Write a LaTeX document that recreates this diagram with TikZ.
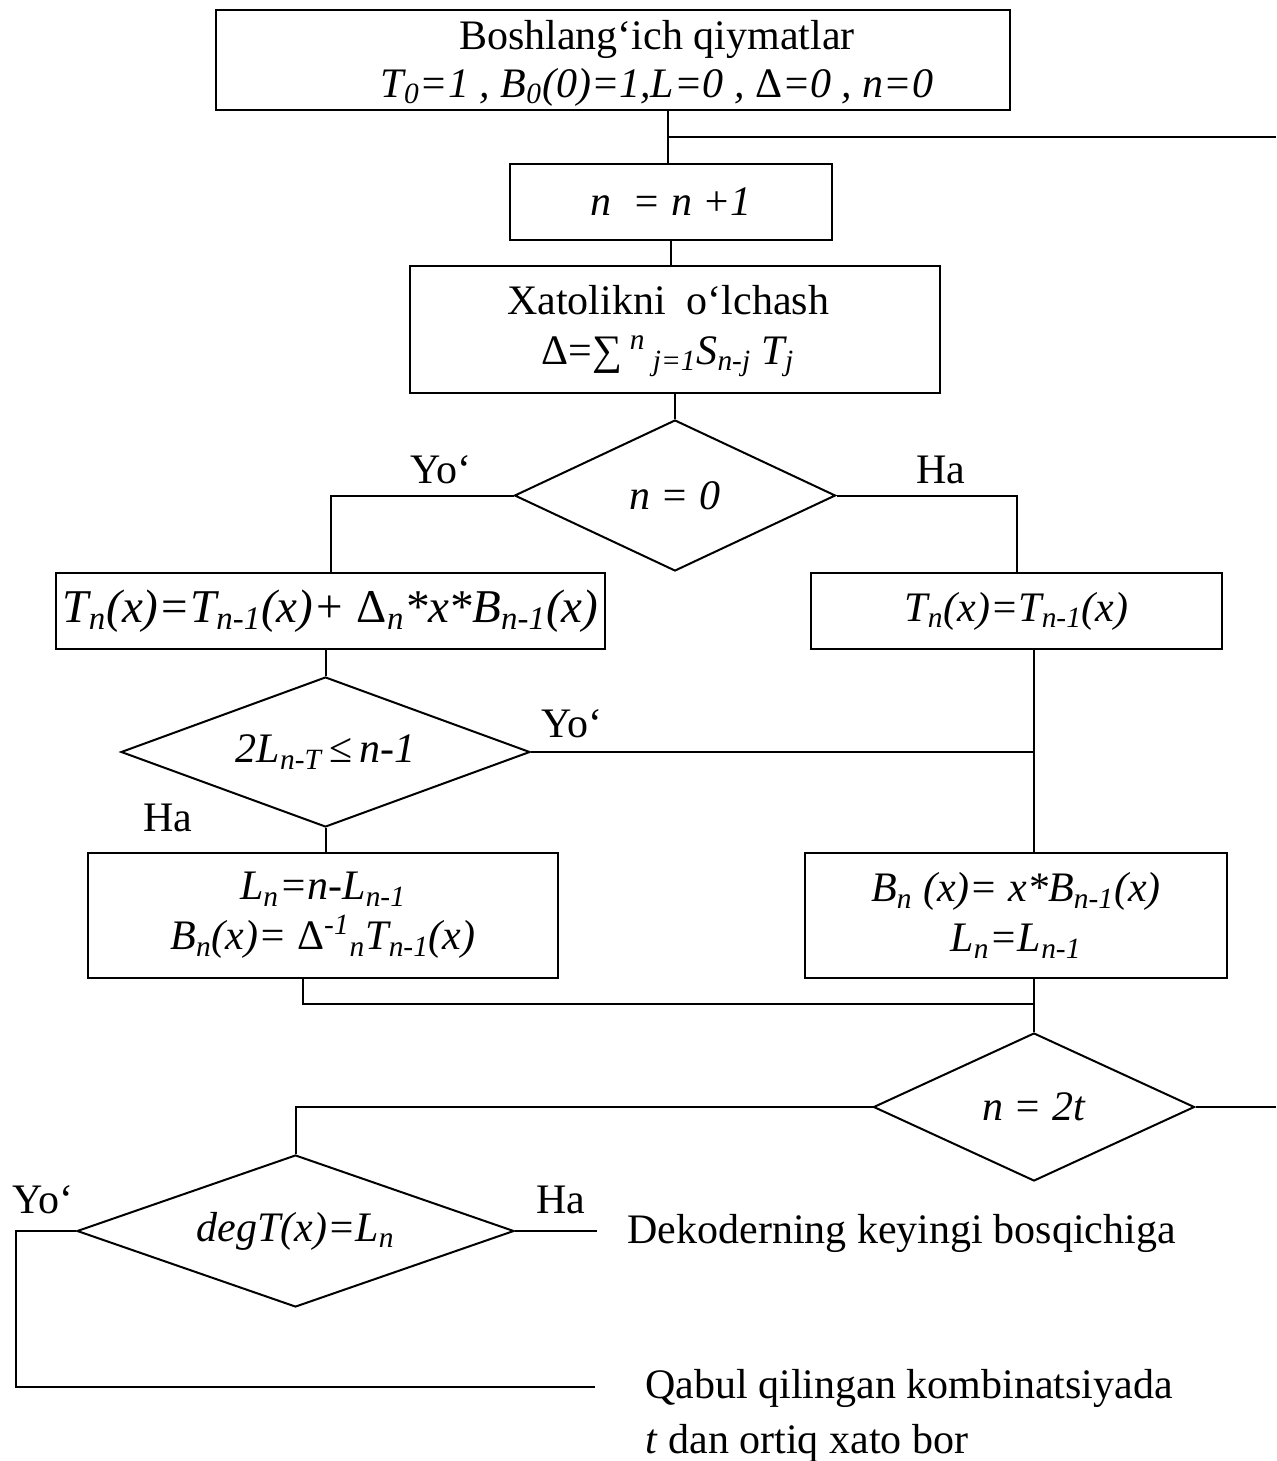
\documentclass[tikz,border=0pt]{standalone}
\usepackage{fontspec}
\setmainfont{Liberation Serif}
\usepackage{tikz}
\usetikzlibrary{shapes.geometric,calc}
\newcommand{\fsz}{\fontsize{21}{24}\selectfont}
\newcommand{\fbig}{\fontsize{23.5}{26}\selectfont}
\newcommand{\sub}[1]{\textsubscript{#1}}
\newcommand{\sups}[1]{\textsuperscript{#1}}

\begin{document}
\begin{tikzpicture}[x=0.5pt,y=-0.5pt,
 box/.style={draw,line width=1pt,align=center,inner sep=0pt,font=\fsz},
 dec/.style={draw,diamond,aspect=2.5,line width=1pt,inner sep=0pt,font=\fsz},
 lbl/.style={inner sep=0pt,font=\fsz},
 conn/.style={line width=1pt}
]
\useasboundingbox (0,0) rectangle (1276,1461);
% boxes
\node[box,minimum width=397pt,minimum height=50pt] (init) at (613,60) {};
\node[lbl,align=center] (inittxt) at (657,63) {Boshlang‘ich qiymatlar\\
 \textit{T\sub{0}=1 , B\sub{0}(0)=1,L=0 , }Δ\textit{=0 , n=0}};
\node[box,minimum width=161pt,minimum height=38pt] (incr) at (671,202) {\textit{n\ \ = n +1}};
\node[box,minimum width=265pt,minimum height=63.5pt] (meas) at (675,329.5) {};
\node[lbl,align=center] (meastxt) at (668,331) {Xatolikni\ \ o‘lchash\\[1pt]
 Δ=∑\sups{ \textit{n}}\sub{\textit{ j=1}}\textit{S\sub{n-j} T\sub{j}}};
\node[dec,minimum width=160.5pt,minimum height=75.5pt] (zero) at (675,495.5) {\textit{n = 0}};
\node[box,font=\fbig,minimum width=274.5pt,minimum height=38pt] (upd) at (330.5,611) {\textit{T\sub{n}(x)=T\sub{n-1}(x)+ }Δ\sub{\textit{n}}\textit{*x*B\sub{n-1}(x)}};
\node[box,minimum width=205.5pt,minimum height=38pt] (keep) at (1016.5,611) {\textit{T\sub{n}(x)=T\sub{n-1}(x)}};
\node[dec,minimum width=204.5pt,minimum height=75pt] (cmp) at (325.5,752) {\textit{2L\sub{n-T}}\,≤\,\textit{n-1}};
\node[box,minimum width=235pt,minimum height=62.5pt] (swap) at (323,915.5) {\textit{L\sub{n}=n-L\sub{n-1}}\\[1pt]
 \textit{B\sub{n}(x)= }Δ\sups{\textit{-1}}\sub{\textit{n}}\textit{T\sub{n-1}(x)}};
\node[box,minimum width=211pt,minimum height=62.5pt] (shift) at (1016,915.5) {\textit{B\sub{n} (x)= x*B\sub{n-1}(x)}\\[1pt]
 \textit{L\sub{n}=L\sub{n-1}}};
\node[dec,minimum width=160.5pt,minimum height=74pt] (full) at (1034,1107) {\textit{n = 2t}};
\node[dec,minimum width=218.5pt,minimum height=76pt] (deg) at (295.5,1231) {\textit{degT(x)=L\sub{n}}};
% outcomes
\node[lbl,anchor=base west] (acc) at (627,1243) {Dekoderning keyingi bosqichiga};
\node[lbl,anchor=base west] (rej) at (645,1398) {Qabul qilingan kombinatsiyada};
\node[lbl,anchor=base west] (rejb) at (645,1453) {\textit{t} dan ortiq xato bor};
% branch labels
\node[lbl,anchor=base] (zno) at (441,483) {Yo‘};
\node[lbl,anchor=base] (zyes) at (941,483) {Ha};
\node[lbl,anchor=base] (cno) at (572,737) {Yo‘};
\node[lbl,anchor=base] (cyes) at (168,831) {Ha};
\node[lbl,anchor=base] (dno) at (43,1213) {Yo‘};
\node[lbl,anchor=base] (dyes) at (561,1213) {Ha};
% joints
\coordinate (top) at (668,137);
\coordinate (topR) at (1276,137);
\coordinate (rsp) at (1034,752);
\coordinate (mrg) at (1034,1004);
\coordinate (fullR) at (1276,1107);
\coordinate (accEnd) at (597,1231);
\coordinate (rejL) at (16,1231);
\coordinate (rejEnd) at (595,1387);
% connectors
\draw[conn] (init.south -| top) -- (incr.north -| top);
\draw[conn] (top) -- (topR);
\draw[conn] (incr.south) -- (meas.north -| incr.south);
\draw[conn] (meas.south) -- (zero.north);
\draw[conn] (zero.west) -| (upd.north);
\draw[conn] (zero.east) -| (keep.north);
\draw[conn] (upd.south -| cmp.north) -- (cmp.north);
\draw[conn] (cmp.east) -- (rsp);
\draw[conn] (keep.south -| rsp) -- (shift.north -| rsp);
\draw[conn] (cmp.south) -- (cmp.south |- swap.north);
\draw[conn] ([xshift=-10pt]swap.south) |- (mrg);
\draw[conn] (shift.south -| full.north) -- (full.north);
\draw[conn] (full.east) -- (fullR);
\draw[conn] (full.west) -| (deg.north);
\draw[conn] (deg.east) -- (accEnd);
\draw[conn] (deg.west) -- (rejL) |- (rejEnd);
\end{tikzpicture}
\end{document}
